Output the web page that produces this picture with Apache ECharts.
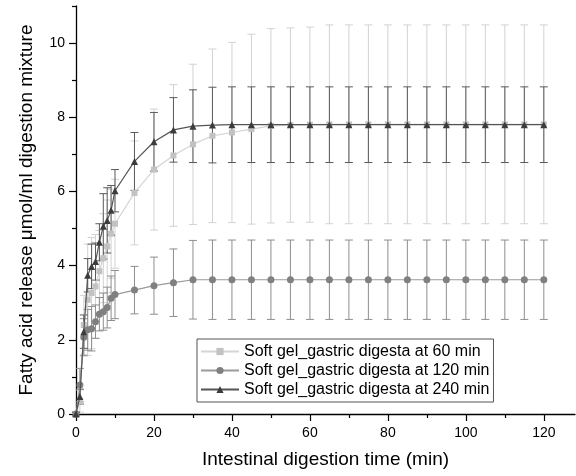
<!DOCTYPE html>
<html>
<head>
<meta charset="utf-8">
<script src="https://cdn.jsdelivr.net/npm/echarts@6/dist/echarts.min.js"></script>
<style>html,body{margin:0;padding:0;background:#fff;}#c{width:576px;height:476px;}</style>
</head>
<body>
<div id="c"></div>
<script>
const times = [0,1,2,3,4,5,6,7,8,9,10,15,20,25,30,35,40,45,50,55,60,65,70,75,80,85,90,95,100,105,110,115,120];
const mean60  = [0,0.35,2.4,3.08,3.26,3.44,3.85,4.2,4.52,4.86,5.13,5.96,6.59,6.97,7.27,7.5,7.59,7.68,7.77,7.79,7.8,7.81,7.81,7.81,7.81,7.81,7.81,7.81,7.81,7.81,7.81,7.81,7.81];
const err60   = [0.05,0.3,0.8,1.5,1.5,1.4,1.1,1.2,1.25,1.2,1.2,1.4,1.63,1.91,2.16,2.34,2.43,2.56,2.62,2.62,2.63,2.68,2.68,2.68,2.68,2.68,2.68,2.68,2.68,2.68,2.68,2.68,2.68];
const mean120 = [0,0.78,2.07,2.27,2.3,2.49,2.69,2.76,2.87,3.12,3.22,3.34,3.46,3.54,3.62,3.62,3.62,3.62,3.62,3.62,3.62,3.62,3.62,3.62,3.62,3.62,3.62,3.62,3.62,3.62,3.62,3.62,3.62];
const err120  = [0.05,0.45,0.5,0.55,0.6,0.45,0.45,0.5,0.55,0.6,0.65,0.64,0.77,0.91,1.06,1.07,1.07,1.07,1.07,1.07,1.07,1.07,1.07,1.07,1.07,1.07,1.07,1.07,1.07,1.07,1.07,1.07,1.07];
const mean240 = [0,0.47,2.22,3.74,3.98,4.11,4.63,5.06,5.22,5.49,6.02,6.81,7.34,7.66,7.76,7.79,7.8,7.8,7.8,7.8,7.8,7.8,7.8,7.8,7.8,7.8,7.8,7.8,7.8,7.8,7.8,7.8,7.8];
const err240  = [0.05,0.2,0.45,0.45,0.6,0.5,0.5,0.88,0.88,0.67,0.57,0.78,0.79,0.87,0.98,1.02,1.02,1.02,1.02,1.02,1.02,1.02,1.02,1.02,1.02,1.02,1.02,1.02,1.02,1.02,1.02,1.02,1.02];
const names = ['Soft gel_gastric digesta at 60 min','Soft gel_gastric digesta at 120 min','Soft gel_gastric digesta at 240 min'];
const xMajor = [0,20,40,60,80,100,120];
const xMinor = [10,30,50,70,90,110];
const yMajor = [0,2,4,6,8,10];
const yMinor = [1,3,5,7,9,11];

const FONT = '"Liberation Sans", Arial, sans-serif';
const chart = echarts.init(document.getElementById('c'), null, {renderer:'canvas'});

function pts(m){ return times.map((t,i)=>[t,m[i]]); }
function errData(m,e){ return times.map((t,i)=>[t,m[i],e[i]]); }
function errRender(color){
  return function(params, api){
    const x = api.value(0), m = api.value(1), e = api.value(2);
    const top = api.coord([x, m+e]), bot = api.coord([x, m-e]);
    const w = 4;
    const st = {stroke: color, lineWidth: 1};
    return {type:'group', children:[
      {type:'line', shape:{x1:top[0],y1:top[1],x2:bot[0],y2:bot[1]}, style:st},
      {type:'line', shape:{x1:top[0]-w,y1:top[1],x2:top[0]+w,y2:top[1]}, style:st},
      {type:'line', shape:{x1:bot[0]-w,y1:bot[1],x2:bot[0]+w,y2:bot[1]}, style:st}
    ]};
  };
}
function errSeries(m,e,color){
  return {type:'custom', renderItem: errRender(color), data: errData(m,e), encode:{x:0,y:1}, xAxisIndex:0, yAxisIndex:0, silent:true, z:1};
}
const axisLine = {show:true, lineStyle:{color:'#000', width:1.3}};
const option = {
  animation:false,
  backgroundColor:'#fff',
  textStyle:{fontFamily:FONT},
  grid:{left:76, right:1, top:6, bottom:62, containLabel:false},
  legend:{
    data: names, orient:'vertical', left:197, top:339,
    backgroundColor:'#fff', borderColor:'#555', borderWidth:1,
    padding:[3,4,3,3], itemGap:0, itemWidth:38, itemHeight:9,
    textStyle:{fontFamily:FONT, fontSize:16, lineHeight:19, color:'#000'}
  },
  xAxis:[
    {type:'value', min:0, max:128, position:'bottom',
     name:'Intestinal digestion time (min)', nameLocation:'middle', nameGap:36,
     nameTextStyle:{fontFamily:FONT, fontSize:19, color:'#000'},
     axisLine: axisLine,
     axisTick:{show:true, customValues:xMajor, length:7, lineStyle:{color:'#000', width:1.2}},
     axisLabel:{show:true, customValues:xMajor, fontFamily:FONT, fontSize:14, color:'#000', margin:12},
     splitLine:{show:false}},
    {type:'value', min:0, max:128, position:'bottom',
     axisLine:{show:false},
     axisTick:{show:true, customValues:xMinor, length:4, lineStyle:{color:'#000', width:1.2}},
     axisLabel:{show:false}, splitLine:{show:false}}
  ],
  yAxis:[
    {type:'value', min:0, max:11, position:'left',
     name:'Fatty acid release μmol/ml digestion mixture', nameLocation:'middle', nameGap:40,
     nameTextStyle:{fontFamily:FONT, fontSize:19, color:'#000'},
     axisLine: axisLine,
     axisTick:{show:true, customValues:yMajor, length:7, lineStyle:{color:'#000', width:1.2}},
     axisLabel:{show:true, customValues:yMajor, fontFamily:FONT, fontSize:14, color:'#000', margin:11},
     splitLine:{show:false}},
    {type:'value', min:0, max:11, position:'left',
     axisLine:{show:false},
     axisTick:{show:true, customValues:yMinor, length:4, lineStyle:{color:'#000', width:1.2}},
     axisLabel:{show:false}, splitLine:{show:false}}
  ],
  series:[
    errSeries(mean60, err60, '#d2d2d2'),
    errSeries(mean120, err120, '#8e8e8e'),
    errSeries(mean240, err240, '#5a5a5a'),
    {name:names[0], type:'line', data:pts(mean60), symbol:'rect', symbolSize:6,
     itemStyle:{color:'#c2c2c2'}, lineStyle:{color:'#d4d4d4', width:1.2}, z:3},
    {name:names[1], type:'line', data:pts(mean120), symbol:'circle', symbolSize:7,
     itemStyle:{color:'#808080'}, lineStyle:{color:'#9a9a9a', width:1.2}, z:4},
    {name:names[2], type:'line', data:pts(mean240), symbol:'triangle', symbolSize:7,
     itemStyle:{color:'#3c3c3c'}, lineStyle:{color:'#555', width:1.2}, z:5}
  ]
};
chart.setOption(option);
</script>
</body>
</html>
